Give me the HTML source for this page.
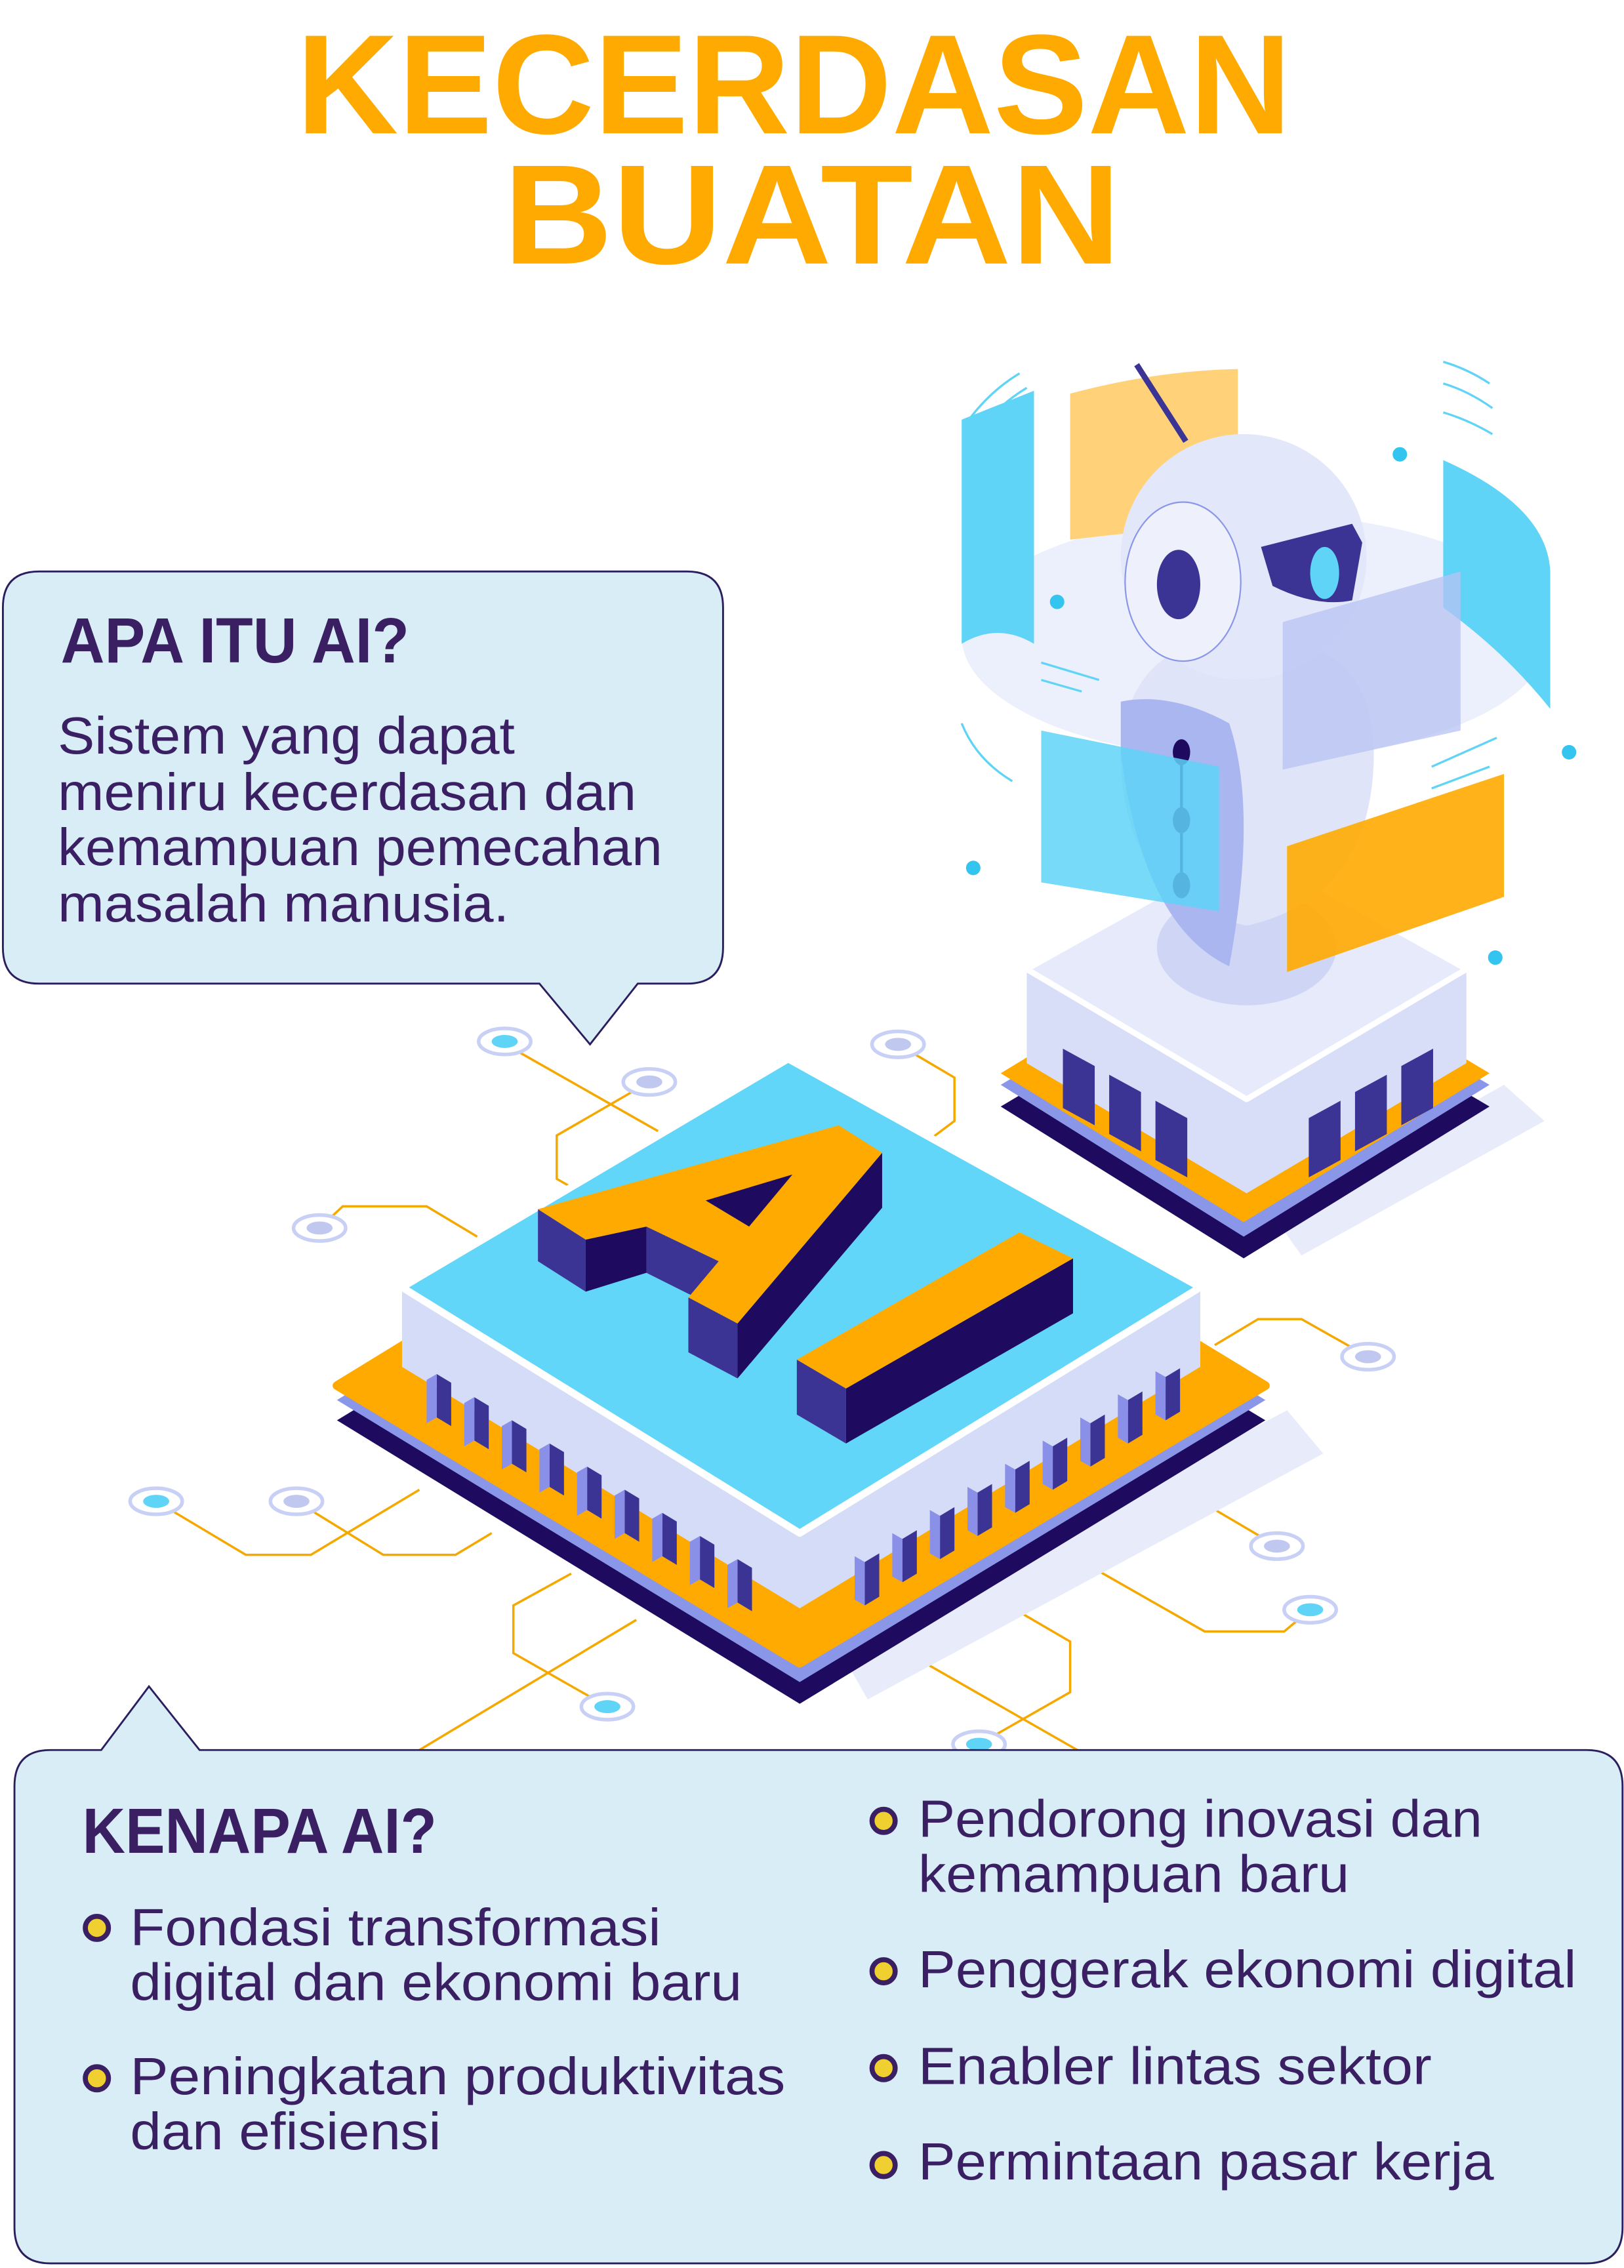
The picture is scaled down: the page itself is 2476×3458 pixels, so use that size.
<!DOCTYPE html>
<html><head><meta charset="utf-8"><style>
html,body{margin:0;padding:0;background:#fff}
svg{display:block}
text{font-family:"Liberation Sans",sans-serif}
</style></head><body>
<svg width="2476" height="3458" viewBox="0 0 1123 1568" xmlns="http://www.w3.org/2000/svg">
<rect width="1123" height="1568" fill="#fff"/>
<!-- Title -->
<text x="205" y="92" font-size="98" font-weight="bold" fill="#FFAA00" textLength="688" lengthAdjust="spacingAndGlyphs">KECERDASAN</text>
<text x="348" y="182" font-size="98" font-weight="bold" fill="#FFAA00" textLength="427" lengthAdjust="spacingAndGlyphs">BUATAN</text>

<!-- circuit lines -->
<g fill="none" stroke="#F5A800" stroke-width="1.6">
<path d="M360 728 L455 782"/>
<path d="M449 748 L385 785 L385 815 L420 835"/>
<path d="M621 722 L660 745 L660 775 L640 790"/>
<path d="M221 849 L237 834 L295 834 L330 855"/>
<path d="M946 938 L900 912 L870 912 L840 930"/>
<path d="M108 1038 L170 1075 L215 1075 L290 1030"/>
<path d="M205 1038 L265 1075 L315 1075 L340 1060"/>
<path d="M883 1069 L820 1032"/>
<path d="M906 1113 L888 1128 L833 1128 L740 1075"/>
<path d="M420 1180 L355 1143 L355 1110 L395 1088"/>
<path d="M677 1206 L740 1170 L740 1135 L680 1100"/>
<path d="M290 1210 L440 1120"/>
<path d="M745 1210 L640 1150"/>
</g>
<g stroke="#c8d0f5" stroke-width="2.5" fill="#fff">
<ellipse cx="349" cy="720" rx="18" ry="9"/><ellipse cx="449" cy="748" rx="18" ry="9"/>
<ellipse cx="621" cy="722" rx="18" ry="9"/><ellipse cx="221" cy="849" rx="18" ry="9"/>
<ellipse cx="946" cy="938" rx="18" ry="9"/><ellipse cx="108" cy="1038" rx="18" ry="9"/>
<ellipse cx="205" cy="1038" rx="18" ry="9"/><ellipse cx="883" cy="1069" rx="18" ry="9"/>
<ellipse cx="906" cy="1113" rx="18" ry="9"/><ellipse cx="420" cy="1180" rx="18" ry="9"/>
<ellipse cx="677" cy="1206" rx="18" ry="9"/>
</g>
<g fill="#5fd4f7">
<ellipse cx="349" cy="720" rx="9" ry="4.5"/><ellipse cx="108" cy="1038" rx="9" ry="4.5"/>
<ellipse cx="906" cy="1113" rx="9" ry="4.5"/><ellipse cx="420" cy="1180" rx="9" ry="4.5"/>
<ellipse cx="677" cy="1206" rx="9" ry="4.5"/>
</g>
<g fill="#c0c8f0">
<ellipse cx="449" cy="748" rx="9" ry="4.5"/><ellipse cx="621" cy="722" rx="9" ry="4.5"/>
<ellipse cx="221" cy="849" rx="9" ry="4.5"/><ellipse cx="946" cy="938" rx="9" ry="4.5"/>
<ellipse cx="205" cy="1038" rx="9" ry="4.5"/><ellipse cx="883" cy="1069" rx="9" ry="4.5"/>
</g>

<!-- Robot pedestal -->
<polygon points="900,868 1068,775 1040,750 880,840" fill="#e8ecfa"/>
<polygon points="692,765 860,665 1030,765 860,870" fill="#1e0a5e"/>
<polygon points="692,750 860,650 1030,750 860,855" fill="#8a96e8"/>
<polygon points="692,742 860,640 1030,742 860,845" fill="#FFAA00"/>
<path d="M710 670 L710 735 L862 825 L1014 735 L1014 670 Z" fill="#d8def8"/>
<polygon points="710,670 862,585 1014,670 862,760" fill="#e6eafb" stroke="#fff" stroke-width="4" stroke-linejoin="round"/>
<g fill="#3b3494">
<polygon points="735,725 757,737 757,778 735,766"/><polygon points="767,743 789,755 789,796 767,784"/>
<polygon points="799,761 821,773 821,814 799,802"/>
<polygon points="905,773 927,761 927,802 905,814"/><polygon points="937,755 959,743 959,784 937,796"/>
<polygon points="969,737 991,725 991,766 969,778"/>
</g>

<!-- Robot -->
<ellipse cx="868" cy="440" rx="203" ry="85" fill="#c8d4f5" opacity="0.35"/>
<path d="M665 290 Q690 280 715 270 L715 445 Q690 430 665 445 Z" fill="#5fd4f7"/>
<path d="M740 272 Q800 256 856 255 L856 362 Q800 366 740 373 Z" fill="#ffd27a"/>
<ellipse cx="862" cy="655" rx="62" ry="40" fill="#cfd6f5"/>
<path d="M775 520 Q780 440 862 440 Q950 440 950 520 Q950 620 862 640 Q775 620 775 520 Z" fill="#dfe4f8"/>
<ellipse cx="860" cy="385" rx="85" ry="85" fill="#e3e7fa"/>
<ellipse cx="818" cy="402" rx="40" ry="55" fill="#eef1fc" stroke="#8a96e8" stroke-width="1"/>
<ellipse cx="815" cy="404" rx="15" ry="24" fill="#3b3494"/>
<path d="M872 378 L935 362 L942 375 L935 415 Q910 420 880 405 Z" fill="#3b3494"/>
<ellipse cx="916" cy="396" rx="10" ry="18" fill="#5fd4f7"/>
<line x1="786" y1="252" x2="820" y2="305" stroke="#3b3494" stroke-width="4"/>
<path d="M775 485 Q810 478 850 500 Q870 560 850 668 Q790 640 775 520 Z" fill="#a9b6f0"/>
<g fill="#1e0a5e"><ellipse cx="817" cy="520" rx="6" ry="9"/><ellipse cx="817" cy="567" rx="6" ry="9"/><ellipse cx="817" cy="612" rx="6" ry="9"/></g>
<line x1="817" y1="520" x2="817" y2="612" stroke="#1e0a5e" stroke-width="2"/>
<path d="M998 318 Q1070 350 1072 395 L1072 490 Q1040 450 998 420 Z" fill="#5fd4f7"/>
<polygon points="720,505 843,530 843,630 720,610" fill="#5fd4f7" opacity="0.85"/>
<polygon points="887,430 1010,395 1010,505 887,532" fill="#b7c3f3" opacity="0.75"/>
<polygon points="890,585 1040,535 1040,620 890,672" fill="#FFAA00" opacity="0.9"/>
<g fill="#34c4f0"><circle cx="968" cy="314" r="5"/><circle cx="731" cy="416" r="5"/><circle cx="1085" cy="520" r="5"/><circle cx="673" cy="600" r="5"/><circle cx="1034" cy="662" r="5"/></g>
<g stroke="#5fd4f7" stroke-width="1.5" fill="none">
<path d="M670 290 Q685 270 705 258"/><path d="M675 300 Q690 280 710 268"/>
<path d="M998 250 Q1015 255 1030 265"/><path d="M998 265 Q1015 270 1032 282"/><path d="M998 285 Q1015 290 1032 300"/>
<path d="M720 458 L760 470"/><path d="M720 470 L748 478"/>
<path d="M665 500 Q675 525 700 540"/><path d="M990 530 L1035 510"/><path d="M990 545 L1030 530"/>
</g>

<!-- Chip -->
<polygon points="600,1175 915,1005 890,975 580,1140" fill="#e8ecfa"/>
<polygon points="233,982 553,787 875,982 553,1178" fill="#1e0a5e"/>
<polygon points="233,968 553,773 875,968 553,1163" fill="#8a96e8"/>
<polygon points="233,958 553,762 875,958 553,1150" fill="#FFAA00" stroke="#FFAA00" stroke-width="6" stroke-linejoin="round"/>
<path d="M278 890 L278 945 L553 1112 L830 945 L830 890 Z" fill="#d5dcf7"/>
<polygon points="278,890 545,732 830,890 553,1060" fill="#62d6f8" stroke="#fff" stroke-width="5" stroke-linejoin="round"/>
<g>
<g fill="#3b3494">
<polygon points="302,950 312,956 312,986 302,980"/><polygon points="328,966 338,972 338,1002 328,996"/>
<polygon points="354,982 364,988 364,1018 354,1012"/><polygon points="380,998 390,1004 390,1034 380,1028"/>
<polygon points="406,1014 416,1020 416,1050 406,1044"/><polygon points="432,1030 442,1036 442,1066 432,1060"/>
<polygon points="458,1046 468,1052 468,1082 458,1076"/><polygon points="484,1062 494,1068 494,1098 484,1092"/>
<polygon points="510,1078 520,1084 520,1114 510,1108"/>
<polygon points="598,1080 608,1074 608,1104 598,1110"/><polygon points="624,1064 634,1058 634,1088 624,1094"/>
<polygon points="650,1048 660,1042 660,1072 650,1078"/><polygon points="676,1032 686,1026 686,1056 676,1062"/>
<polygon points="702,1016 712,1010 712,1040 702,1046"/><polygon points="728,1000 738,994 738,1024 728,1030"/>
<polygon points="754,984 764,978 764,1008 754,1014"/><polygon points="780,968 790,962 790,992 780,998"/>
<polygon points="806,952 816,946 816,976 806,982"/>
</g>
<g fill="#8a90e8">
<polygon points="295,954 302,950 302,980 295,984"/><polygon points="321,970 328,966 328,996 321,1000"/>
<polygon points="347,986 354,982 354,1012 347,1016"/><polygon points="373,1002 380,998 380,1028 373,1032"/>
<polygon points="399,1018 406,1014 406,1044 399,1048"/><polygon points="425,1034 432,1030 432,1060 425,1064"/>
<polygon points="451,1050 458,1046 458,1076 451,1080"/><polygon points="477,1066 484,1062 484,1092 477,1096"/>
<polygon points="503,1082 510,1078 510,1108 503,1112"/>
<polygon points="591,1076 598,1080 598,1110 591,1106"/><polygon points="617,1060 624,1064 624,1094 617,1090"/>
<polygon points="643,1044 650,1048 650,1078 643,1074"/><polygon points="669,1028 676,1032 676,1062 669,1058"/>
<polygon points="695,1012 702,1016 702,1046 695,1042"/><polygon points="721,996 728,1000 728,1030 721,1026"/>
<polygon points="747,980 754,984 754,1014 747,1010"/><polygon points="773,964 780,968 780,998 773,994"/>
<polygon points="799,948 806,952 806,982 799,978"/>
</g>
</g>
<!-- AI letters -->
<polygon points="372,836 405,857 405,893 372,872" fill="#3b3494"/>
<polygon points="405,857 447,848 447,880 405,893" fill="#1e0a5e"/>
<polygon points="447,848 497,872 497,905 447,880" fill="#3b3494"/>
<polygon points="476,897 510,915 510,953 476,935" fill="#3b3494"/>
<polygon points="610,797 610,835 510,953 510,915" fill="#1e0a5e"/>
<polygon points="372,836 580,778 610,797 510,915 476,897 497,872 447,848 405,857" fill="#FFAA00"/>
<polygon points="488,830 548,812 518,848" fill="#1e0a5e"/>
<polygon points="551,940 585,960 585,998 551,978" fill="#3b3494"/>
<polygon points="585,960 742,870 742,908 585,998" fill="#1e0a5e"/>
<polygon points="551,940 705,852 742,870 585,960" fill="#FFAA00"/>

<!-- Top box -->
<path d="M27 395 L475 395 Q500 395 500 420 L500 655 Q500 680 475 680 L441 680 L408 722 L373 680 L27 680 Q2 680 2 655 L2 420 Q2 395 27 395 Z" fill="#d8edf6" stroke="#2b1e5e" stroke-width="1.3"/>
<text x="42" y="458" font-size="44" font-weight="bold" fill="#3a1f63" textLength="241" lengthAdjust="spacingAndGlyphs">APA ITU AI?</text>
<g font-size="36" fill="#3a1f63">
<text x="40" y="521" textLength="316" lengthAdjust="spacingAndGlyphs">Sistem yang dapat</text>
<text x="40" y="560" textLength="400" lengthAdjust="spacingAndGlyphs">meniru kecerdasan dan</text>
<text x="40" y="598" textLength="418" lengthAdjust="spacingAndGlyphs">kemampuan pemecahan</text>
<text x="40" y="637" textLength="312" lengthAdjust="spacingAndGlyphs">masalah manusia.</text>
</g>

<!-- Bottom box -->
<path d="M35 1210 L70 1210 L103 1166 L138 1210 L1097 1210 Q1122 1210 1122 1235 L1122 1540 Q1122 1565 1097 1565 L35 1565 Q10 1565 10 1540 L10 1235 Q10 1210 35 1210 Z" fill="#d8edf6" stroke="#2b1e5e" stroke-width="1.3"/>
<text x="57" y="1281" font-size="44" font-weight="bold" fill="#3a1f63" textLength="245" lengthAdjust="spacingAndGlyphs">KENAPA AI?</text>
<g fill="#f0d030" stroke="#3a1f63" stroke-width="3.5">
<circle cx="67" cy="1333" r="8"/><circle cx="67" cy="1437" r="8"/>
<circle cx="611" cy="1259" r="8"/><circle cx="611" cy="1363" r="8"/>
<circle cx="611" cy="1430" r="8"/><circle cx="611" cy="1497" r="8"/>
</g>
<g font-size="36" fill="#3a1f63">
<text x="90" y="1345" textLength="367" lengthAdjust="spacingAndGlyphs">Fondasi transformasi</text>
<text x="90" y="1383" textLength="423" lengthAdjust="spacingAndGlyphs">digital dan ekonomi baru</text>
<text x="90" y="1448" textLength="453" lengthAdjust="spacingAndGlyphs">Peningkatan produktivitas</text>
<text x="90" y="1486" textLength="215" lengthAdjust="spacingAndGlyphs">dan efisiensi</text>
<text x="635" y="1270" textLength="390" lengthAdjust="spacingAndGlyphs">Pendorong inovasi dan</text>
<text x="635" y="1308" textLength="298" lengthAdjust="spacingAndGlyphs">kemampuan baru</text>
<text x="635" y="1374" textLength="455" lengthAdjust="spacingAndGlyphs">Penggerak ekonomi digital</text>
<text x="635" y="1441" textLength="355" lengthAdjust="spacingAndGlyphs">Enabler lintas sektor</text>
<text x="635" y="1507" textLength="398" lengthAdjust="spacingAndGlyphs">Permintaan pasar kerja</text>
</g>
</svg>
</body></html>
